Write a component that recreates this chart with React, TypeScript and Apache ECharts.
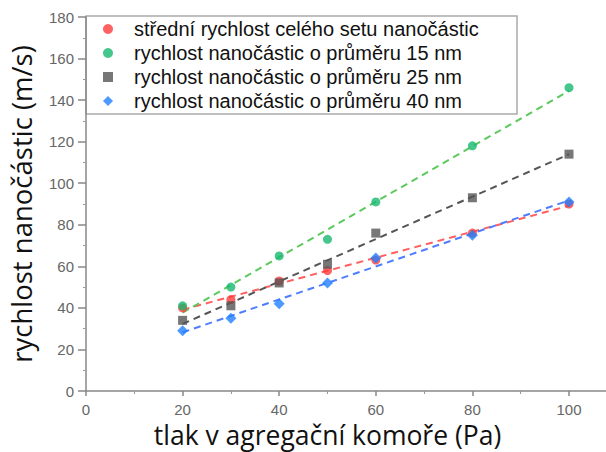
import React, { useEffect, useRef } from "react";
import * as echarts from "echarts";

const pressure = [20, 30, 40, 50, 60, 80, 100];
const meanAll = [40, 44, 53, 58, 63, 76, 90];
const d15 = [41, 50, 65, 73, 91, 118, 146];
const d25 = [34, 41, 52, 61, 76, 93, 114];
const d40 = [29, 35, 42, 52, 64, 75, 91];

const names = [
  "střední rychlost celého setu nanočástic",
  "rychlost nanočástic o průměru 15 nm",
  "rychlost nanočástic o průměru 25 nm",
  "rychlost nanočástic o průměru 40 nm",
];
const xTitle = "tlak v agregační komoře (Pa)";
const yTitle = "rychlost nanočástic (m/s)";

function fit(xs: number[], ys: number[]) {
  const n = xs.length;
  const mx = xs.reduce((a, b) => a + b, 0) / n;
  const my = ys.reduce((a, b) => a + b, 0) / n;
  let sxy = 0, sxx = 0;
  for (let i = 0; i < n; i++) {
    sxy += (xs[i] - mx) * (ys[i] - my);
    sxx += (xs[i] - mx) * (xs[i] - mx);
  }
  const k = sxy / sxx;
  const x0 = xs[0], x1 = xs[n - 1];
  return [[x0, my + k * (x0 - mx)], [x1, my + k * (x1 - mx)]];
}

export default function App() {
  const ref = useRef<HTMLDivElement>(null);
  useEffect(() => {
    const chart = echarts.init(ref.current!, null, { renderer: "svg" });
    const sets = [meanAll, d15, d25, d40];
    const markerColors = ["#ff3b3b", "#17b86f", "#555555", "#1f7fff"];
    const lineColors = ["#ff5f5f", "#5cc95c", "#555555", "#4f7dff"];
    const symbols = ["circle", "circle", "rect", "diamond"];
    const scatter = sets.map((s, i) => ({
      name: names[i],
      type: "scatter",
      data: pressure.map((p, j) => [p, s[j]]),
      symbol: symbols[i],
      symbolSize: i === 3 ? 11 : 9,
      itemStyle: { color: markerColors[i] },
      z: 3,
    }));
    const lines = sets.map((s, i) => ({
      type: "line",
      data: fit(pressure, s),
      symbol: "none",
      lineStyle: { color: lineColors[i], width: 2, type: [7, 5] },
      z: 2,
    }));
    chart.setOption({
      animation: false,
      grid: { left: 86, right: 37, top: 17, bottom: 61, outerBoundsMode: "none", containLabel: false },
      xAxis: {
        type: "value",
        min: 0,
        max: 100,
        interval: 20,
        name: xTitle,
        nameLocation: "middle",
        nameGap: 31,
        nameTextStyle: { fontFamily: "Open Sans", fontSize: 26.5, lineHeight: 26, color: "#111" },
        axisLine: { show: true, lineStyle: { color: "#888", width: 1.5 } },
        axisTick: { show: true, length: 5, lineStyle: { color: "#888", width: 1.5 } },
        minorTick: { show: true, splitNumber: 2, length: 3, lineStyle: { color: "#999" } },
        splitLine: { show: false },
        axisLabel: { color: "#666", fontFamily: "Liberation Sans", fontSize: 15, margin: 11 },
      },
      yAxis: {
        type: "value",
        min: 0,
        max: 180,
        interval: 20,
        name: yTitle,
        nameLocation: "middle",
        nameGap: 51,
        nameTextStyle: { fontFamily: "Open Sans", fontSize: 27.5, lineHeight: 28, color: "#111" },
        axisLine: { show: true, lineStyle: { color: "#888", width: 1.5 } },
        axisTick: { show: true, length: 8, lineStyle: { color: "#888", width: 1.5 } },
        minorTick: { show: true, splitNumber: 2, length: 3, lineStyle: { color: "#999" } },
        splitLine: { show: false },
        axisLabel: { color: "#666", fontFamily: "Liberation Sans", fontSize: 15, margin: 12 },
      },
      legend: {
        data: names,
        orient: "vertical",
        left: 103,
        top: 17.5,
        itemWidth: 10,
        itemHeight: 10,
        itemGap: 1,
        padding: 0,
        textStyle: {
          fontFamily: "Liberation Sans",
          fontSize: 20,
          lineHeight: 23,
          color: "#111",
          padding: [0, 0, 0, 16],
        },
      },
      graphic: [
        {
          type: "rect",
          z: -1,
          shape: { x: 86, y: 16, width: 431, height: 98 },
          style: { fill: "#fff", stroke: "#aaa", lineWidth: 1.5 },
          shadowBlur: 3,
          shadowColor: "rgba(0,0,0,0.15)",
        },
        {
          type: "line",
          shape: { x1: 569, y1: 391, x2: 606, y2: 391 },
          style: { stroke: "#888", lineWidth: 1.5 },
        },
      ],
      series: [...scatter, ...lines],
    });
    return () => chart.dispose();
  }, []);
  return <div ref={ref} style={{ width: 606, height: 452, position: "absolute", left: 0, top: 0 }} />;
}
